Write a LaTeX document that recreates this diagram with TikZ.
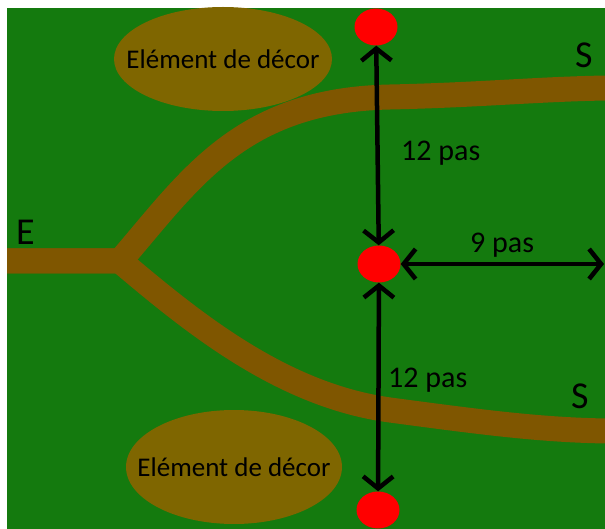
\documentclass[tikz,border=0pt]{standalone}
\usepackage{fontspec}
\setmainfont{Carlito}
\usetikzlibrary{arrows.meta,shapes.geometric}
\definecolor{grass}{RGB}{20,122,14}
\definecolor{pathbrown}{RGB}{127,86,0}
\definecolor{decor}{RGB}{127,102,0}
\definecolor{dotred}{RGB}{255,0,0}
\tikzset{
  road/.style={draw=pathbrown,line width=25pt,line join=miter,line cap=butt},
  decorbox/.style={ellipse,fill=decor,inner sep=0pt,minimum width=218pt,minimum height=104pt},
  decortext/.style={inner sep=0pt,font=\fontsize{27}{30}\selectfont},
  reddot/.style={ellipse,fill=dotred,inner sep=0pt,minimum width=43pt,minimum height=37pt},
  measure/.style={draw=black,line width=4.5pt,{Straight Barb[length=12pt,width=30pt]}-{Straight Barb[length=12pt,width=30pt]}},
  steplabel/.style={anchor=base west,inner sep=0pt,font=\fontsize{30}{32}\selectfont},
  endlabel/.style={anchor=base west,inner sep=0pt,font=\fontsize{38}{40}\selectfont}
}
\begin{document}
\begin{tikzpicture}[x=1pt,y=-1pt]
\useasboundingbox (0,0) rectangle (605,529);
\fill[white] (0,0) rectangle (605,529);
\fill[grass] (7,8) rectangle (605,529);
% roads
\draw[road] (7,261) -- (120,261) .. controls (190,180) and (240,100) .. (390,97) .. controls (480,95) and (540,89) .. (607,88);
\draw[road] (7,261) -- (120,261) .. controls (190,320) and (280,395) .. (390,410) .. controls (480,422) and (540,430) .. (607,431);
% decor
\node[decorbox] (dec1) at (223,59) {};
\node[decortext] (t1) at (dec1.center) {Elément de décor};
\node[decorbox,minimum width=216pt,minimum height=114pt] (dec2) at (234,467) {};
\node[decortext] (t2) at (dec2.center) {Elément de décor};
% dots
\node[reddot] (dtop) at (376,27) {};
\node[reddot] (dmid) at (379,264) {};
\node[reddot] (dbot) at (378,510) {};
\coordinate (rend) at (604,264);
% arrows
\draw[measure] (dtop) -- (dmid);
\draw[measure] (dmid) -- (dbot);
\draw[measure] (dmid) -- (rend);
% labels
\node[steplabel] (l1) at (401,161) {12 pas};
\node[steplabel] (l2) at (388,387) {12 pas};
\node[steplabel] (l3) at (470,253) {9 pas};
\node[endlabel] (lE) at (16,245) {E};
\node[endlabel] (lS1) at (575,68) {S};
\node[endlabel] (lS2) at (571,408) {S};
\end{tikzpicture}
\end{document}
